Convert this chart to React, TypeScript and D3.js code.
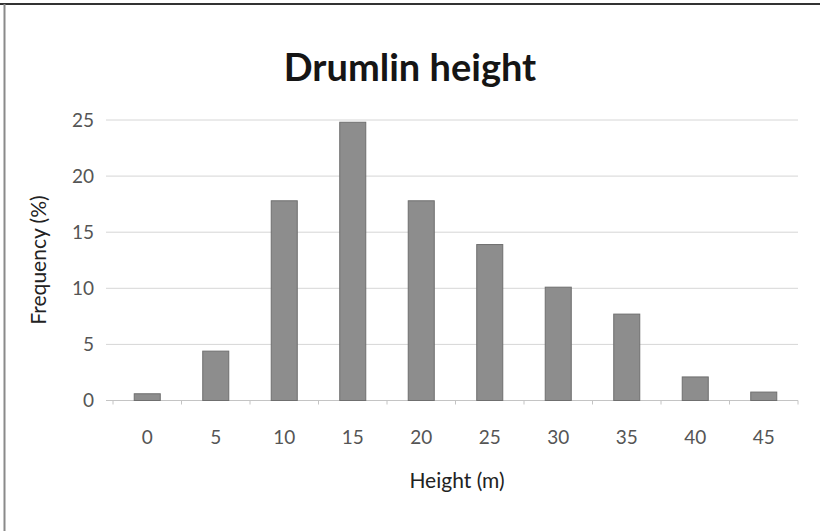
import React from "react";
import * as d3 from "d3";

// Drumlin height frequency distribution
const heights: string[] = ["0", "5", "10", "15", "20", "25", "30", "35", "40", "45"];
const frequency: number[] = [0.6, 4.4, 17.8, 24.8, 17.8, 13.9, 10.1, 7.7, 2.1, 0.75];
const yTicks: number[] = [0, 5, 10, 15, 20, 25];

const W = 820;
const H = 531;
const margin = { left: 113, right: 22, top: 120, bottom: 131 };
const FONT = "Lato, 'Open Sans', sans-serif";

export default function App() {
  const x = d3
    .scaleBand<string>()
    .domain(heights)
    .range([margin.left, W - margin.right])
    .paddingInner(0.62)
    .paddingOuter(0.31);
  const y = d3
    .scaleLinear()
    .domain([0, 25])
    .range([H - margin.bottom + 0.5, margin.top]);

  const step = x.step();
  const x0 = margin.left;
  const x1 = W - margin.right;
  const boundaries = d3.range(heights.length + 1).map((i) => x0 + i * step);

  return (
    <svg
      width={W}
      height={H}
      style={{ position: "absolute", left: 0, top: 0, background: "#fff" }}
    >
      {/* frame edges */}
      <line x1={0} x2={W} y1={4} y2={4} stroke="#333" strokeWidth={2} />
      <line x1={4.5} x2={4.5} y1={4} y2={H} stroke="#8a8a8a" strokeWidth={2} />

      <text
        x={410}
        y={81}
        textAnchor="middle"
        fontFamily={FONT}
        fontWeight={700}
        fontSize={38}
        fill="#151515"
      >
        Drumlin height
      </text>

      {/* horizontal gridlines */}
      {yTicks.map((t) => (
        <line
          key={t}
          x1={x0 - 7}
          x2={x1}
          y1={y(t)}
          y2={y(t)}
          stroke={t === 0 ? "#c4c4c4" : "#d6d6d6"}
          strokeWidth={1}
        />
      ))}

      {/* category tick marks */}
      {boundaries.map((bx, i) => (
        <line
          key={i}
          x1={bx}
          x2={bx}
          y1={y(0)}
          y2={y(0) + 4}
          stroke="#c4c4c4"
          strokeWidth={1}
        />
      ))}

      {/* y tick labels */}
      {yTicks.map((t) => (
        <text
          key={t}
          x={94}
          y={y(t)}
          dy="0.35em"
          textAnchor="end"
          fontFamily={FONT}
          fontSize={19}
          fill="#555"
        >
          {t}
        </text>
      ))}

      {/* bars */}
      {heights.map((h, i) => (
        <rect
          key={h}
          x={x(h)}
          y={y(frequency[i])}
          width={x.bandwidth()}
          height={y(0) - y(frequency[i])}
          fill="#8d8d8d"
          stroke="#6f6f6f"
          strokeWidth={1}
        />
      ))}

      {/* x tick labels */}
      {heights.map((h) => (
        <text
          key={h}
          x={(x(h) as number) + x.bandwidth() / 2}
          y={444}
          textAnchor="middle"
          fontFamily={FONT}
          fontSize={19}
          fill="#555"
        >
          {h}
        </text>
      ))}

      <text
        x={457}
        y={488}
        textAnchor="middle"
        fontFamily={FONT}
        fontSize={21}
        fill="#222"
      >
        Height (m)
      </text>

      <text
        transform="translate(46,260) rotate(-90)"
        textAnchor="middle"
        fontFamily={FONT}
        fontSize={21}
        fill="#222"
      >
        Frequency (%)
      </text>
    </svg>
  );
}
